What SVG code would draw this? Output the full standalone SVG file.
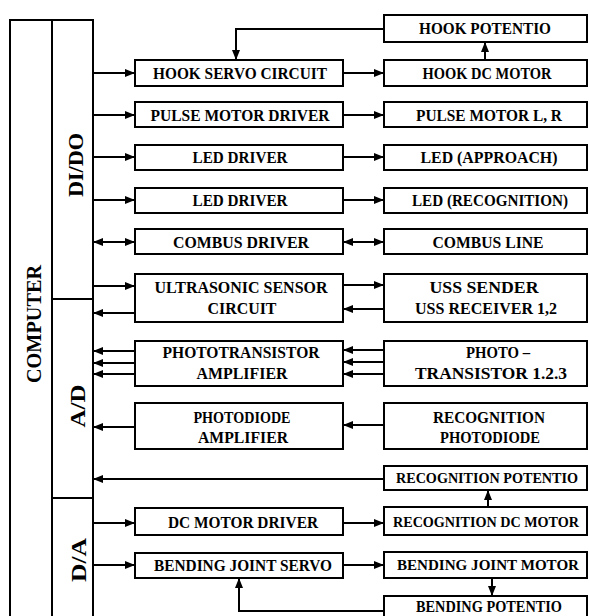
<svg xmlns="http://www.w3.org/2000/svg" width="589" height="616" viewBox="0 0 589 616">
<style>
.box{fill:#fff;stroke:#000;stroke-width:2}
.ln{fill:none;stroke:#000;stroke-width:2}
.t{font-family:"Liberation Serif","Times New Roman",serif;font-size:17px;font-weight:bold;text-anchor:middle;fill:#000}
.s{font-size:15px}
.big{font-family:"Liberation Serif","Times New Roman",serif;font-size:20px;font-weight:bold;text-anchor:middle;fill:#000}
</style>
<defs>
<marker id="ah" markerUnits="userSpaceOnUse" markerWidth="10" markerHeight="8" viewBox="0 0 10 8" refX="10" refY="4" orient="auto-start-reverse">
<path d="M0,0 L10,4 L0,8 z" fill="#000"/>
</marker>
</defs>
<rect width="589" height="616" fill="#fff"/>

<g id="computer">
<path class="ln" d="M10,630 V20 H93 V630 M52,20 V630"/>
<text class="big" transform="rotate(-90 34 324)" x="34" y="331" textLength="118" lengthAdjust="spacingAndGlyphs">COMPUTER</text>
</g>
<g id="dido">
<path class="ln" d="M52,299 H93"/>
<text class="big" transform="rotate(-90 76 165)" x="76" y="172" textLength="64" lengthAdjust="spacingAndGlyphs">DI/DO</text>
</g>
<g id="ad">
<path class="ln" d="M52,498 H93"/>
<text class="big" transform="rotate(-90 78 406)" x="78" y="413" textLength="43" lengthAdjust="spacingAndGlyphs">A/D</text>
</g>
<g id="da">
<text class="big" transform="rotate(-90 79 560)" x="79" y="567" textLength="44" lengthAdjust="spacingAndGlyphs">D/A</text>
</g>

<g id="connectors" class="ln">
<g marker-end="url(#ah)">
<path d="M93,73 H135"/><path d="M343,73 H384"/>
<path d="M93,115 H135"/><path d="M343,115 H384"/>
<path d="M93,157 H135"/><path d="M343,157 H384"/>
<path d="M93,200 H135"/><path d="M343,200 H384"/>
<path d="M93,286 H135"/><path d="M343,285 H384"/>
<path d="M135,313 H93"/><path d="M384,309 H343"/>
<path d="M135,351 H93"/><path d="M135,363 H93"/><path d="M135,374 H93"/>
<path d="M384,350 H343"/><path d="M384,362 H343"/><path d="M384,374 H343"/>
<path d="M135,427 H93"/><path d="M384,425 H343"/>
<path d="M384,479 H93"/>
<path d="M93,523 H135"/><path d="M343,523 H384"/>
<path d="M93,565 H135"/><path d="M343,565 H384"/>
<path d="M384,29 H236 V60"/>
<path d="M485,60 V42"/>
<path d="M488,507 V490"/>
<path d="M492,578 V596"/>
<path d="M384,611 H239 V578"/>
</g>
<path d="M93,242 H135" marker-start="url(#ah)" marker-end="url(#ah)"/>
<path d="M343,242 H384" marker-start="url(#ah)" marker-end="url(#ah)"/>
</g>

<g id="hook-potentio"><rect class="box" x="384" y="15" width="203" height="27"/><text class="t" x="485" y="34" textLength="132" lengthAdjust="spacingAndGlyphs">HOOK POTENTIO</text></g>
<g id="hook-servo"><rect class="box" x="135" y="60" width="208" height="26"/><text class="t" x="240" y="79" textLength="174" lengthAdjust="spacingAndGlyphs">HOOK SERVO CIRCUIT</text></g>
<g id="hook-dc"><rect class="box" x="384" y="60" width="203" height="26"/><text class="t" x="487" y="79" textLength="129" lengthAdjust="spacingAndGlyphs">HOOK DC MOTOR</text></g>
<g id="pulse-driver"><rect class="box" x="135" y="102" width="208" height="25"/><text class="t" x="240" y="121" textLength="179" lengthAdjust="spacingAndGlyphs">PULSE MOTOR DRIVER</text></g>
<g id="pulse-motor"><rect class="box" x="384" y="102" width="203" height="25"/><text class="t" x="489" y="121" textLength="146" lengthAdjust="spacingAndGlyphs">PULSE MOTOR L, R</text></g>
<g id="led-driver-1"><rect class="box" x="135" y="145" width="208" height="25"/><text class="t" x="240" y="163" textLength="95" lengthAdjust="spacingAndGlyphs">LED DRIVER</text></g>
<g id="led-approach"><rect class="box" x="384" y="145" width="203" height="25"/><text class="t" x="489" y="163" textLength="137" lengthAdjust="spacingAndGlyphs">LED (APPROACH)</text></g>
<g id="led-driver-2"><rect class="box" x="135" y="188" width="208" height="25"/><text class="t" x="240" y="206" textLength="95" lengthAdjust="spacingAndGlyphs">LED DRIVER</text></g>
<g id="led-recognition"><rect class="box" x="384" y="188" width="203" height="25"/><text class="t" x="490" y="206" textLength="156" lengthAdjust="spacingAndGlyphs">LED (RECOGNITION)</text></g>
<g id="combus-driver"><rect class="box" x="135" y="229" width="208" height="25"/><text class="t" x="241" y="248" textLength="136" lengthAdjust="spacingAndGlyphs">COMBUS DRIVER</text></g>
<g id="combus-line"><rect class="box" x="384" y="229" width="203" height="25"/><text class="t" x="488" y="248" textLength="111" lengthAdjust="spacingAndGlyphs">COMBUS LINE</text></g>
<g id="ultrasonic"><rect class="box" x="135" y="274" width="208" height="48"/><text class="t" x="241" y="293" textLength="173" lengthAdjust="spacingAndGlyphs">ULTRASONIC SENSOR</text><text class="t" x="242" y="314" textLength="69" lengthAdjust="spacingAndGlyphs">CIRCUIT</text></g>
<g id="uss"><rect class="box" x="384" y="274" width="203" height="48"/><text class="t" x="484" y="293" textLength="109" lengthAdjust="spacingAndGlyphs">USS SENDER</text><text class="t" x="486" y="314" textLength="142" lengthAdjust="spacingAndGlyphs">USS RECEIVER 1,2</text></g>
<g id="phototransistor-amp"><rect class="box" x="135" y="341" width="208" height="45"/><text class="t" x="241" y="358" textLength="157" lengthAdjust="spacingAndGlyphs">PHOTOTRANSISTOR</text><text class="t" x="242" y="379" textLength="91" lengthAdjust="spacingAndGlyphs">AMPLIFIER</text></g>
<g id="phototransistor"><rect class="box" x="384" y="341" width="203" height="45"/><text class="t" x="498" y="358" textLength="64" lengthAdjust="spacingAndGlyphs">PHOTO –</text><text class="t" x="491" y="379" textLength="152" lengthAdjust="spacingAndGlyphs">TRANSISTOR 1.2.3</text></g>
<g id="photodiode-amp"><rect class="box" x="135" y="403" width="208" height="46"/><text class="t" x="242" y="423" textLength="97" lengthAdjust="spacingAndGlyphs">PHOTODIODE</text><text class="t" x="243" y="443" textLength="90" lengthAdjust="spacingAndGlyphs">AMPLIFIER</text></g>
<g id="recognition-photodiode"><rect class="box" x="384" y="403" width="203" height="46"/><text class="t" x="489" y="423" textLength="112" lengthAdjust="spacingAndGlyphs">RECOGNITION</text><text class="t" x="490" y="443" textLength="100" lengthAdjust="spacingAndGlyphs">PHOTODIODE</text></g>
<g id="recognition-potentio"><rect class="box" x="384" y="466" width="203" height="24"/><text class="t s" x="487" y="483" textLength="182" lengthAdjust="spacingAndGlyphs">RECOGNITION POTENTIO</text></g>
<g id="recognition-dc"><rect class="box" x="384" y="507" width="203" height="28"/><text class="t s" x="486" y="527" textLength="186" lengthAdjust="spacingAndGlyphs">RECOGNITION DC MOTOR</text></g>
<g id="dc-motor-driver"><rect class="box" x="135" y="508" width="208" height="27"/><text class="t" x="243" y="528" textLength="150" lengthAdjust="spacingAndGlyphs">DC MOTOR DRIVER</text></g>
<g id="bending-servo"><rect class="box" x="135" y="553" width="208" height="25"/><text class="t" x="243" y="571" textLength="178" lengthAdjust="spacingAndGlyphs">BENDING JOINT SERVO</text></g>
<g id="bending-motor"><rect class="box" x="384" y="552" width="203" height="26"/><text class="t s" x="488" y="570" textLength="182" lengthAdjust="spacingAndGlyphs">BENDING JOINT MOTOR</text></g>
<g id="bending-potentio"><rect class="box" x="384" y="596" width="203" height="30"/><text class="t" x="489" y="612" textLength="146" lengthAdjust="spacingAndGlyphs">BENDING POTENTIO</text></g>
</svg>
